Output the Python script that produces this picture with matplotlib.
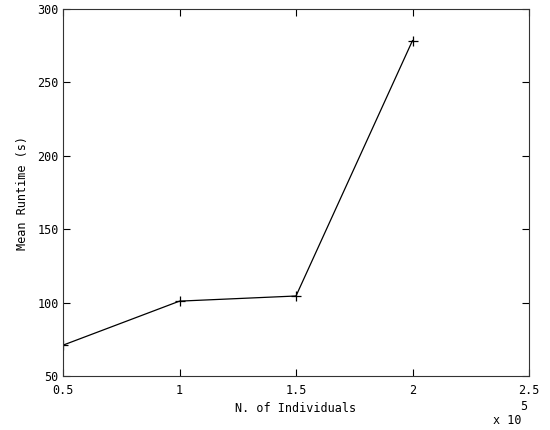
import matplotlib
matplotlib.use("Agg")
import matplotlib.pyplot as plt
from matplotlib.ticker import FuncFormatter

individuals = [50000, 100000, 150000, 200000]
runtime = [71, 101, 104.5, 278.5]
xticks = [50000, 100000, 150000, 200000, 250000]
yticks = [50, 100, 150, 200, 250, 300]

plt.rcParams['font.family'] = 'DejaVu Sans Mono'
plt.rcParams['font.size'] = 8.5

fig = plt.figure(figsize=(5.5, 4.3), dpi=100)
ax = fig.add_axes([63 / 550, 1 - 376 / 430, 466 / 550, 367 / 430])

ax.plot(individuals, runtime, color='black', linewidth=0.9,
        marker='+', markersize=7, markeredgewidth=0.9)

ax.set_xlim(50000, 250000)
ax.set_ylim(50, 300)
ax.set_xticks(xticks)
ax.set_yticks(yticks)
ax.xaxis.set_major_formatter(FuncFormatter(lambda v, p: '%g' % (v / 1e5)))
ax.tick_params(direction='in', length=5, width=0.8, top=True, right=True,
               colors='black', pad=3)
ax.tick_params(axis='x', pad=6)
for s in ax.spines.values():
    s.set_linewidth(0.8)
    s.set_color('#333333')

ax.set_xlabel('N. of Individuals', labelpad=3)
ax.set_ylabel('Mean Runtime (s)', labelpad=6)

# exponent label under the right end of the x axis
fig.text(507 / 550, 1 - 421 / 430, 'x 10', ha='center', va='center')
fig.text(524 / 550, 1 - 407 / 430, '5', ha='center', va='center')

fig.savefig('out.png', dpi=100, facecolor='white')
